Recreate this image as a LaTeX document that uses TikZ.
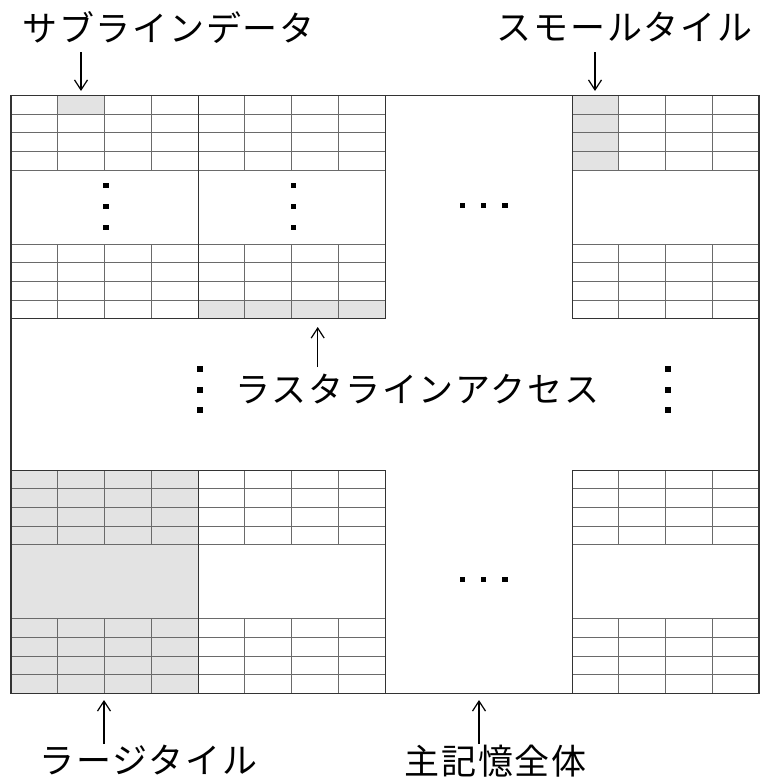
\documentclass[tikz,border=0pt]{standalone}
\usepackage{fontspec}
\newfontfamily\jp{Noto Sans CJK JP}
\usetikzlibrary{arrows.meta}
\definecolor{hl}{HTML}{E3E3E3}
\definecolor{frm}{HTML}{333333}
\definecolor{inn}{HTML}{6A6A6A}
\tikzset{
  frameline/.style={draw=frm, line width=1.1pt},
  tileline/.style={draw=frm, line width=1pt},
  cellline/.style={draw=inn, line width=0.9pt},
  hlfill/.style={fill=hl},
  lbl/.style={font=\jp\fontsize{35}{40}\selectfont\addfontfeature{LetterSpace=5}, inner sep=0pt, text=black},
  arr/.style={draw=black, line width=1.2pt, -{Straight Barb[length=10pt,width=13pt,line width=1.2pt]}},
  dotmark/.style={fill=black}
}
\newcommand\memtile[2]{%
  \foreach \i in {1,2,3}{%
    \draw[cellline] (#1,#2+\i*18.6) -- ++(187,0);
    \draw[cellline] (#1,#2+148.6+\i*18.6) -- ++(187,0);
  }
  \draw[cellline] (#1,#2+74.4) -- ++(187,0);
  \draw[cellline] (#1,#2+148.6) -- ++(187,0);
  \foreach \j in {1,2,3}{%
    \draw[cellline] (#1+\j*46.75,#2) -- ++(0,74.4);
    \draw[cellline] (#1+\j*46.75,#2+148.6) -- ++(0,74.4);
  }
  \draw[tileline] (#1,#2) rectangle ++(187,223);
}
\newcommand\dotsq[2]{\fill[dotmark] (#1-2.6,#2-2.6) rectangle ++(5.2,5.2);}
\begin{document}
\begin{tikzpicture}[x=1pt,y=-1pt]
\useasboundingbox (0,0) rectangle (761,779);
\fill[white] (0,0) rectangle (761,779);
% highlights
\fill[hlfill] (57.75,95.7) rectangle (104.5,114.3);
\fill[hlfill] (198,300.1) rectangle (385,318.7);
\fill[hlfill] (572,95.7) rectangle (618.75,170.1);
\fill[hlfill] (11,470.3) rectangle (198,693.3);
% tiles
\memtile{11}{95.7}
\memtile{198}{95.7}
\memtile{572}{95.7}
\memtile{11}{470.3}
\memtile{198}{470.3}
\memtile{572}{470.3}
% frame
\draw[frameline] (11,95.7) rectangle (759,693.3);
% dots
\dotsq{106}{185.3}\dotsq{106}{206.3}\dotsq{106}{227.3}
\dotsq{293.7}{185.3}\dotsq{293.7}{206.3}\dotsq{293.7}{227.3}
\dotsq{462.7}{205.3}\dotsq{483.7}{205.3}\dotsq{505}{205.3}
\dotsq{462.7}{579.3}\dotsq{483.7}{579.3}\dotsq{505}{579.3}
\dotsq{200}{369}\dotsq{200}{390}\dotsq{200}{410}
\dotsq{668}{369}\dotsq{668}{390}\dotsq{668}{410}
% labels
\node[lbl] (sub) at (168.5,27.5) {サブラインデータ};
\node[lbl] (small) at (624.5,27.5) {スモールタイル};
\node[lbl] (large) at (148.5,760) {ラージタイル};
\node[lbl] (mem) at (495.5,761) {主記憶全体};
\node[lbl] (raster) at (417.5,389) {ラスタラインアクセス};
% arrow coordinates
\coordinate (subS) at (81,52);   \coordinate (subE) at (81,91);
\coordinate (smlS) at (595,52);  \coordinate (smlE) at (595,91);
\coordinate (lrgS) at (104,744); \coordinate (lrgE) at (104,700);
\coordinate (memS) at (479,744); \coordinate (memE) at (479,700);
\coordinate (rasS) at (317.7,367); \coordinate (rasE) at (317.7,327);
\draw[arr] (subS) -- (subE);
\draw[arr] (smlS) -- (smlE);
\draw[arr] (lrgS) -- (lrgE);
\draw[arr] (memS) -- (memE);
\draw[arr] (rasS) -- (rasE);
\end{tikzpicture}
\end{document}
